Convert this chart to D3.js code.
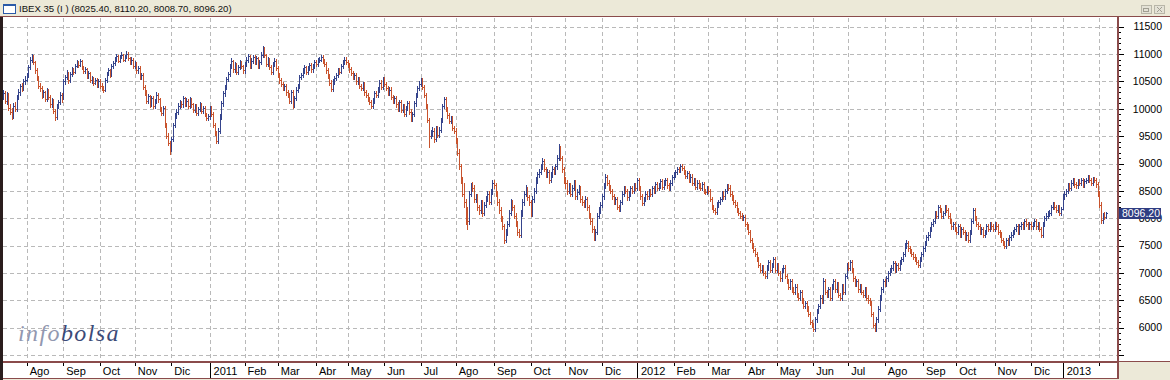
<!DOCTYPE html>
<html>
<head>
<meta charset="utf-8">
<script src="https://cdn.jsdelivr.net/npm/d3@7"></script>
<style>
  body { margin: 0; background: #ece9d8; }
  svg { display: block; }
</style>
</head>
<body>
<svg id="chart"></svg>
<script>
// Constants for dimensions
const width = 1170;
const height = 380;

// Title values (open, high, low, close of the last session)
const lastOHLC = [8025.40, 8110.20, 8008.70, 8096.20];

// Month labels along the bottom (first entry is the partial July 2010)
const monthLabels = ["Jul", "Ago", "Sep", "Oct", "Nov", "Dic",
  "2011", "Feb", "Mar", "Abr", "May", "Jun", "Jul", "Ago", "Sep", "Oct", "Nov", "Dic",
  "2012", "Feb", "Mar", "Abr", "May", "Jun", "Jul", "Ago", "Sep", "Oct", "Nov", "Dic",
  "2013", ""];
// Trading sessions shown in each month
const monthDays = [14, 22, 22, 21, 22, 23,
  21, 20, 23, 19, 22, 22, 21, 23, 22, 21, 22, 21,
  22, 21, 22, 19, 22, 21, 22, 23, 20, 23, 22, 19,
  22, 5];

// Daily closes, one line per month
const closes = [
  10280, 10150, 10240, 10020, 9950, 9870, 10060, 10000, 10220, 10300, 10420, 10380, 10500, 10530,
  10620, 10760, 10900, 10960, 10850, 10700, 10560, 10420, 10380, 10250, 10300, 10180, 10340, 10220, 10080, 10150, 9960, 9850, 10050, 10120, 10260, 10180,
  10500, 10580, 10650, 10520, 10640, 10720, 10680, 10790, 10850, 10800, 10870, 10760, 10690, 10720, 10600, 10650, 10520, 10560, 10480, 10530, 10430, 10500,
  10420, 10380, 10350, 10520, 10640, 10700, 10620, 10780, 10840, 10900, 10960, 10880, 10950, 10990, 10900, 10960, 11010, 10920, 10850, 10900, 10780,
  10820, 10700, 10750, 10580, 10620, 10400, 10300, 10150, 10230, 10080, 10200, 10050, 10140, 10260, 10180, 10000, 9920, 10020, 9700, 9500, 9380, 9260,
  9450, 9700, 9880, 9950, 10060, 10120, 10080, 10190, 10100, 10150, 10050, 10170, 10080, 9980, 10050, 9920, 10000, 10080, 9960, 10020, 9900, 9840, 9860,
  10020, 9900, 9700, 9560, 9420, 9600, 9860, 10100, 10280, 10400, 10550, 10640, 10780, 10880, 10720, 10820, 10680, 10760, 10850, 10780, 10700,
  10820, 10900, 10960, 10780, 10880, 10950, 10850, 10920, 10780, 10850, 10990, 11100, 10980, 10820, 10900, 10760, 10680, 10820, 10880, 10740,
  10620, 10520, 10450, 10380, 10420, 10300, 10250, 10150, 10300, 10080, 10200, 10350, 10420, 10580, 10620, 10700, 10760, 10680, 10740, 10800, 10720, 10780, 10850,
  10820, 10880, 10900, 10950, 10880, 10820, 10700, 10600, 10480, 10360, 10500, 10560, 10620, 10700, 10680, 10780, 10850, 10900, 10860,
  10800, 10720, 10650, 10580, 10620, 10500, 10540, 10420, 10380, 10450, 10300, 10250, 10180, 10120, 10060, 10150, 10280, 10250, 10350, 10480, 10400, 10550,
  10450, 10380, 10300, 10350, 10220, 10150, 10200, 10080, 10000, 10120, 9980, 10050, 9900, 10020, 10100, 9950, 9820, 9900, 10100, 10250, 10380, 10460,
  10520, 10400, 10250, 10050, 9800, 9500, 9560, 9600, 9450, 9650, 9520, 9620, 9800, 10050, 10180, 10000, 9880, 9780, 9820, 9650, 9600,
  9420, 9200, 8950, 8700, 8450, 8300, 8000, 7950, 8450, 8600, 8550, 8350, 8400, 8200, 8150, 8300, 8100, 8250, 8350, 8450, 8300, 8500, 8650,
  8600, 8450, 8300, 8150, 8000, 7850, 7600, 7750, 7900, 8100, 8300, 8200, 8050, 7900, 7750, 7700, 8100, 8300, 8450, 8550, 8380, 8300,
  8100, 8350, 8500, 8700, 8800, 8850, 8950, 9050, 8900, 8800, 8850, 8700, 8800, 8900, 8850, 8950, 9100, 9300, 9100, 8900, 8700,
  8650, 8500, 8600, 8450, 8550, 8650, 8400, 8480, 8550, 8350, 8300, 8250, 8350, 8200, 8050, 7950, 7800, 7650, 7750, 8050, 8150, 8250,
  8400, 8600, 8750, 8650, 8550, 8500, 8400, 8300, 8350, 8200, 8180, 8300, 8450, 8550, 8500, 8380, 8450, 8550, 8500, 8600, 8560,
  8700, 8550, 8400, 8280, 8350, 8450, 8400, 8500, 8450, 8550, 8500, 8620, 8550, 8600, 8680, 8580, 8650, 8700, 8600, 8550, 8650, 8750,
  8800, 8850, 8900, 8880, 8950, 8920, 8850, 8780, 8820, 8700, 8760, 8650, 8700, 8580, 8650, 8600, 8550, 8620, 8500, 8480, 8550,
  8500, 8350, 8200, 8150, 8120, 8250, 8300, 8350, 8450, 8400, 8500, 8580, 8560, 8450, 8380, 8300, 8250, 8150, 8100, 8050, 8000, 8020,
  7900, 7850, 7750, 7600, 7500, 7420, 7350, 7250, 7150, 7050, 7100, 7000, 6950, 7100, 7200, 7050, 7150, 7250, 7050,
  7150, 7000, 6900, 7050, 7100, 6950, 6850, 6750, 6850, 6700, 6650, 6750, 6600, 6550, 6650, 6500, 6400, 6450, 6350, 6250, 6100, 6050,
  5980, 6150, 6300, 6400, 6550, 6500, 6850, 6650, 6600, 6700, 6550, 6750, 6850, 6700, 6800, 6600, 6550, 6750, 6650, 6950, 7150,
  7100, 7200, 7050, 6900, 6800, 6850, 6700, 6750, 6650, 6600, 6700, 6550, 6500, 6450, 6250, 6050, 5980, 6150, 6350, 6550, 6700, 6850,
  6800, 6900, 7000, 7050, 7100, 7180, 7050, 7150, 7100, 7200, 7250, 7350, 7500, 7550, 7450, 7400, 7350, 7300, 7250, 7200, 7150, 7250, 7350,
  7450, 7550, 7650, 7700, 7800, 7900, 7950, 8100, 8050, 8200, 8150, 8050, 8100, 8200, 8150, 8050, 7950, 7850, 7900, 7800,
  7750, 7850, 7700, 7800, 7750, 7650, 7700, 7600, 7750, 7950, 8150, 8000, 7900, 7850, 7750, 7800, 7700, 7750, 7850, 7800, 7900, 7850, 7800,
  7900, 7850, 7750, 7700, 7600, 7550, 7500, 7600, 7550, 7650, 7700, 7750, 7800, 7850, 7750, 7850, 7900, 7850, 7950, 7900, 7850, 7900,
  7850, 7900, 7950, 7850, 7900, 7800, 7700, 7900, 8000, 8050, 8100, 8100, 8200, 8250, 8200, 8150, 8200, 8100, 8170,
  8400, 8450, 8500, 8600, 8550, 8650, 8700, 8620, 8600, 8680, 8650, 8700, 8620, 8680, 8700, 8750, 8700, 8650, 8720, 8700, 8620, 8450,
  8250, 7960, 8060, 8030, 8096.2
];

// Daily highs, one line per month
const highs = [
  10350, 10320, 10300, 10290, 10080, 10010, 10110, 10120, 10260, 10360, 10460, 10480, 10540, 10600,
  10660, 10800, 10940, 11010, 10990, 10880, 10740, 10600, 10470, 10420, 10350, 10330, 10380, 10370, 10250, 10190, 10170, 10000, 10090, 10160, 10300, 10290,
  10540, 10620, 10700, 10680, 10680, 10760, 10750, 10820, 10890, 10880, 10910, 10900, 10790, 10760, 10750, 10690, 10680, 10600, 10590, 10570, 10560, 10540,
  10540, 10470, 10420, 10560, 10670, 10740, 10730, 10810, 10880, 10940, 11000, 10990, 10980, 11030, 11010, 10990, 11050, 11040, 10950, 10940, 10920,
  10870, 10860, 10790, 10780, 10660, 10650, 10440, 10340, 10270, 10260, 10240, 10230, 10180, 10300, 10290, 10200, 10040, 10060, 10050, 9740, 9560, 9420,
  9490, 9740, 9920, 9990, 10100, 10160, 10150, 10230, 10220, 10190, 10180, 10210, 10200, 10110, 10090, 10080, 10040, 10120, 10110, 10060, 10050, 9930, 9900,
  10060, 10060, 9940, 9740, 9600, 9640, 9900, 10140, 10320, 10440, 10590, 10680, 10820, 10920, 10900, 10860, 10840, 10800, 10890, 10880, 10800,
  10860, 10940, 11000, 10990, 10920, 10990, 10980, 10960, 10950, 10890, 11030, 11140, 11130, 11010, 10940, 10930, 10800, 10860, 10920, 10910,
  10780, 10660, 10560, 10490, 10460, 10460, 10340, 10290, 10340, 10340, 10240, 10390, 10460, 10620, 10660, 10740, 10800, 10790, 10780, 10840, 10830, 10820, 10890,
  10890, 10920, 10940, 10990, 10980, 10910, 10850, 10740, 10640, 10520, 10540, 10600, 10660, 10740, 10740, 10820, 10890, 10940, 10940,
  10900, 10840, 10760, 10690, 10660, 10660, 10580, 10580, 10460, 10490, 10490, 10340, 10290, 10220, 10160, 10190, 10320, 10320, 10390, 10520, 10520, 10590,
  10590, 10490, 10420, 10390, 10390, 10260, 10240, 10240, 10120, 10160, 10160, 10090, 10090, 10060, 10140, 10140, 9990, 9940, 10140, 10290, 10420, 10500,
  10560, 10560, 10440, 10290, 10090, 9840, 9620, 9660, 9640, 9690, 9690, 9660, 9840, 10090, 10220, 10220, 10040, 9920, 9870, 9860, 9690,
  9640, 9460, 9260, 9000, 8760, 8640, 8360, 8200, 8500, 8650, 8660, 8600, 8440, 8450, 8250, 8340, 8340, 8290, 8400, 8490, 8500, 8540, 8700,
  8700, 8650, 8500, 8350, 8200, 8050, 7900, 7800, 7950, 8150, 8350, 8340, 8250, 8100, 7950, 7800, 8150, 8350, 8500, 8600, 8580, 8420,
  8340, 8400, 8550, 8750, 8850, 8900, 9000, 9100, 9080, 8940, 8900, 8880, 8850, 8950, 8940, 9000, 9150, 9350, 9320, 9140, 8940,
  8760, 8700, 8650, 8640, 8600, 8700, 8690, 8530, 8600, 8590, 8400, 8340, 8400, 8390, 8250, 8100, 8000, 7850, 7800, 8100, 8200, 8300,
  8450, 8650, 8800, 8790, 8690, 8600, 8540, 8440, 8390, 8390, 8240, 8340, 8490, 8590, 8590, 8540, 8490, 8590, 8590, 8640, 8640,
  8740, 8740, 8590, 8440, 8390, 8490, 8490, 8540, 8540, 8590, 8590, 8660, 8660, 8640, 8720, 8720, 8690, 8740, 8740, 8640, 8690, 8790,
  8840, 8890, 8940, 8940, 8990, 8990, 8960, 8890, 8860, 8860, 8800, 8800, 8740, 8740, 8690, 8690, 8640, 8660, 8660, 8540, 8590,
  8590, 8540, 8390, 8240, 8190, 8290, 8340, 8390, 8490, 8490, 8540, 8620, 8620, 8600, 8490, 8420, 8340, 8290, 8190, 8140, 8090, 8060,
  8060, 7940, 7890, 7790, 7640, 7540, 7460, 7390, 7290, 7190, 7140, 7140, 7040, 7140, 7240, 7240, 7190, 7290, 7290,
  7190, 7190, 7040, 7090, 7140, 7140, 6990, 6890, 6890, 6890, 6740, 6790, 6790, 6640, 6690, 6690, 6540, 6490, 6490, 6390, 6290, 6140,
  6090, 6190, 6340, 6440, 6590, 6590, 6900, 6890, 6690, 6740, 6740, 6790, 6890, 6890, 6840, 6840, 6640, 6790, 6790, 6990, 7190,
  7200, 7240, 7240, 7090, 6940, 6890, 6890, 6790, 6790, 6690, 6740, 6740, 6590, 6540, 6490, 6290, 6090, 6190, 6390, 6590, 6740, 6890,
  6890, 6940, 7040, 7090, 7140, 7220, 7220, 7190, 7190, 7240, 7290, 7390, 7540, 7600, 7590, 7490, 7440, 7390, 7340, 7290, 7240, 7290, 7390,
  7490, 7590, 7690, 7740, 7840, 7940, 7990, 8140, 8140, 8240, 8240, 8190, 8140, 8240, 8240, 8190, 8090, 7990, 7940, 7940,
  7840, 7890, 7890, 7840, 7840, 7790, 7740, 7740, 7790, 7990, 8190, 8190, 8040, 7940, 7890, 7840, 7840, 7790, 7890, 7890, 7940, 7940, 7890,
  7940, 7940, 7890, 7790, 7740, 7640, 7590, 7640, 7640, 7690, 7740, 7790, 7840, 7890, 7890, 7890, 7940, 7940, 7990, 7990, 7940, 7940,
  7940, 7940, 7990, 7990, 7940, 7940, 7840, 7940, 8040, 8090, 8140, 8150, 8240, 8290, 8290, 8240, 8240, 8240, 8210,
  8440, 8490, 8540, 8640, 8640, 8690, 8740, 8740, 8660, 8720, 8720, 8740, 8740, 8720, 8740, 8790, 8790, 8740, 8760, 8760, 8740, 8660,
  8490, 8290, 8100, 8110, 8110.2
];

// Daily lows, one line per month
const lows = [
  10180, 10100, 10090, 9980, 9900, 9820, 9840, 9960, 9960, 10180, 10260, 10330, 10340, 10450,
  10500, 10580, 10720, 10860, 10810, 10660, 10520, 10380, 10330, 10200, 10210, 10140, 10150, 10180, 10040, 10040, 9920, 9800, 9820, 10010, 10080, 10130,
  10170, 10460, 10550, 10480, 10490, 10600, 10640, 10650, 10760, 10760, 10780, 10730, 10650, 10660, 10570, 10570, 10490, 10480, 10440, 10450, 10390, 10400,
  10380, 10340, 10300, 10320, 10490, 10610, 10580, 10600, 10750, 10800, 10870, 10850, 10850, 10920, 10870, 10870, 10930, 10890, 10810, 10820, 10740,
  10740, 10660, 10660, 10540, 10550, 10360, 10260, 10100, 10110, 10040, 10050, 10010, 10020, 10110, 10130, 9960, 9880, 9880, 9660, 9460, 9330, 9180,
  9220, 9410, 9660, 9840, 9910, 10020, 10040, 10040, 10060, 10060, 10010, 10020, 10040, 9940, 9940, 9880, 9880, 9960, 9920, 9920, 9860, 9800, 9800,
  9820, 9860, 9660, 9520, 9380, 9380, 9560, 9820, 10060, 10240, 10360, 10510, 10600, 10740, 10680, 10680, 10640, 10640, 10720, 10740, 10660,
  10660, 10780, 10860, 10740, 10740, 10840, 10810, 10820, 10740, 10740, 10810, 10950, 10940, 10780, 10780, 10720, 10640, 10640, 10780, 10700,
  10580, 10480, 10410, 10340, 10340, 10260, 10210, 10100, 10110, 10020, 10040, 10160, 10310, 10380, 10540, 10580, 10660, 10640, 10640, 10700, 10680, 10680, 10740,
  10780, 10780, 10850, 10870, 10840, 10780, 10660, 10560, 10440, 10320, 10330, 10460, 10520, 10580, 10640, 10650, 10740, 10810, 10820,
  10760, 10680, 10610, 10540, 10540, 10460, 10460, 10380, 10340, 10340, 10260, 10210, 10140, 10080, 10010, 10020, 10110, 10210, 10210, 10310, 10360, 10360,
  10410, 10340, 10260, 10260, 10180, 10110, 10110, 10040, 9960, 9960, 9940, 9940, 9860, 9860, 9980, 9910, 9770, 9780, 9860, 10060, 10210, 10340,
  10420, 10360, 10210, 10010, 9760, 9300, 9460, 9500, 9400, 9410, 9480, 9480, 9580, 9760, 10010, 9960, 9840, 9740, 9740, 9610, 9560,
  9380, 9150, 8900, 8640, 8400, 8200, 7900, 7800, 7900, 8400, 8500, 8300, 8300, 8150, 8080, 8100, 8050, 8060, 8200, 8310, 8260, 8260, 8450,
  8550, 8400, 8250, 8100, 7950, 7800, 7540, 7560, 7700, 7860, 8060, 8150, 8000, 7850, 7700, 7650, 7650, 8050, 8250, 8400, 8330, 8250,
  8040, 8050, 8300, 8460, 8650, 8760, 8800, 8900, 8860, 8750, 8760, 8650, 8660, 8760, 8800, 8800, 8900, 9060, 9060, 8850, 8650,
  8560, 8450, 8460, 8400, 8410, 8510, 8350, 8360, 8440, 8300, 8250, 8200, 8210, 8150, 8000, 7900, 7750, 7600, 7610, 7710, 8000, 8100,
  8200, 8360, 8560, 8610, 8510, 8460, 8360, 8260, 8260, 8160, 8140, 8140, 8260, 8410, 8460, 8340, 8340, 8410, 8460, 8460, 8520,
  8520, 8510, 8360, 8240, 8240, 8310, 8360, 8360, 8410, 8410, 8460, 8460, 8510, 8510, 8560, 8540, 8540, 8610, 8560, 8510, 8510, 8610,
  8710, 8760, 8810, 8840, 8840, 8880, 8810, 8740, 8740, 8660, 8660, 8610, 8610, 8540, 8540, 8560, 8510, 8510, 8460, 8440, 8440,
  8460, 8310, 8160, 8110, 8080, 8080, 8210, 8260, 8310, 8360, 8360, 8460, 8520, 8410, 8340, 8260, 8210, 8110, 8060, 8010, 7960, 7960,
  7860, 7810, 7710, 7560, 7460, 7380, 7310, 7210, 7110, 7010, 7010, 6960, 6910, 6910, 7060, 7010, 7010, 7110, 7010,
  7010, 6960, 6860, 6860, 7010, 6910, 6810, 6710, 6710, 6660, 6610, 6610, 6560, 6510, 6510, 6460, 6360, 6360, 6310, 6210, 6060, 6010,
  5940, 5940, 6110, 6260, 6360, 6460, 6460, 6610, 6560, 6560, 6510, 6510, 6710, 6660, 6660, 6560, 6510, 6510, 6610, 6610, 6910,
  7060, 7060, 7010, 6860, 6760, 6760, 6660, 6660, 6610, 6560, 6560, 6510, 6460, 6410, 6210, 6010, 5940, 5940, 6110, 6310, 6510, 6660,
  6760, 6760, 6860, 6960, 7010, 7060, 7010, 7010, 7060, 7060, 7160, 7210, 7310, 7460, 7410, 7360, 7310, 7260, 7210, 7160, 7110, 7110, 7210,
  7310, 7410, 7510, 7610, 7660, 7760, 7860, 7910, 8010, 8010, 8110, 8010, 8010, 8060, 8110, 8010, 7910, 7810, 7810, 7760,
  7710, 7710, 7660, 7660, 7710, 7610, 7610, 7560, 7560, 7710, 7910, 7960, 7860, 7810, 7710, 7710, 7660, 7660, 7710, 7760, 7760, 7810, 7760,
  7760, 7810, 7710, 7660, 7560, 7510, 7460, 7460, 7510, 7510, 7610, 7660, 7710, 7760, 7710, 7710, 7810, 7810, 7810, 7860, 7810, 7810,
  7810, 7810, 7860, 7810, 7810, 7760, 7660, 7660, 7860, 7960, 8010, 8050, 8060, 8160, 8160, 8110, 8110, 8060, 8060,
  8160, 8360, 8410, 8460, 8510, 8510, 8610, 8580, 8560, 8560, 8610, 8610, 8580, 8580, 8640, 8660, 8660, 8610, 8610, 8660, 8580, 8410,
  8210, 7920, 7920, 7990, 8008.7
];

// Price levels
const gridLevels = d3.range(5500, 11501, 500);
const labelLevels = d3.range(6000, 11501, 500);
const minorLevels = d3.range(5500, 11501, 100);

const colorUp = "#35448c";
const colorDown = "#c8532d";
const frameColor = "#8a4b4b";
const gridColor = "#b9b9b9";

const svg = d3.select("#chart")
  .attr("width", width)
  .attr("height", height)
  .style("font-family", "'Liberation Sans', Arial, sans-serif");

// Window background
svg.append("rect").attr("width", width).attr("height", height).attr("fill", "#ece9d8");

// Panels
svg.append("rect").attr("x", 3).attr("y", 17).attr("width", 1115).attr("height", 345).attr("fill", "#fff");
svg.append("rect").attr("x", 1118).attr("y", 17).attr("width", 52).attr("height", 345).attr("fill", "#fff");
svg.append("rect").attr("x", 3).attr("y", 362).attr("width", 1114).attr("height", 16).attr("fill", "#fff");

// Scales: one slot per trading session
const xScale = d3.scaleLinear()
  .domain([0, 637])
  .range([3.4, 1062.7]);

const yScale = d3.scaleLinear()
  .domain([6000, 11500])
  .range([327.7, 26.7]);

// Month start indexes
const starts = [0, ...d3.cumsum(monthDays)].slice(0, monthDays.length);
const monthTicks = starts.map((s, i) => ({ idx: s, label: monthLabels[i] })).slice(1);

// Grid
const grid = svg.append("g")
  .attr("stroke", gridColor)
  .attr("stroke-dasharray", "4,3")
  .attr("shape-rendering", "crispEdges");

grid.selectAll(".hgrid")
  .data(gridLevels)
  .enter()
  .append("line")
  .attr("x1", 3)
  .attr("x2", 1117)
  .attr("y1", d => Math.round(yScale(d)) + 0.5)
  .attr("y2", d => Math.round(yScale(d)) + 0.5);

grid.selectAll(".vgrid")
  .data(monthTicks)
  .enter()
  .append("line")
  .attr("x1", d => Math.round(xScale(d.idx)) + 0.5)
  .attr("x2", d => Math.round(xScale(d.idx)) + 0.5)
  .attr("y1", 18)
  .attr("y2", 361);

// Logo
const logo = svg.append("text")
  .attr("x", 18)
  .attr("y", 341)
  .style("font-family", "'Liberation Serif', 'DejaVu Serif', serif")
  .style("font-style", "italic")
  .style("font-size", "24px")
  .style("letter-spacing", "1.4px");
logo.append("tspan").attr("fill", "#9298b0").text("info");
logo.append("tspan").attr("fill", "#3b4a78").text("bolsa");

// OHLC bars (open taken as previous close)
const bars = closes.map((c, i) => {
  const last = i === closes.length - 1;
  const o = last ? lastOHLC[0] : (i === 0 ? c : closes[i - 1]);
  const h = last ? lastOHLC[1] : Math.max(highs[i], o, c);
  const l = last ? lastOHLC[2] : Math.min(lows[i], o, c);
  return { i, o, h, l, c };
});

const barG = svg.append("g")
  .attr("shape-rendering", "crispEdges")
  .attr("stroke-width", 1);

const bar = barG.selectAll(".bar")
  .data(bars)
  .enter()
  .append("g")
  .attr("stroke", d => d.c >= d.o ? colorUp : colorDown);

const bx = d => Math.round(xScale(d.i)) + 0.5;

bar.append("line")
  .attr("x1", bx)
  .attr("x2", bx)
  .attr("y1", d => Math.round(yScale(d.h)))
  .attr("y2", d => Math.round(yScale(d.l)) + 1);

bar.append("line")
  .attr("x1", d => bx(d) - 1)
  .attr("x2", d => bx(d))
  .attr("y1", d => Math.round(yScale(d.o)) + 0.5)
  .attr("y2", d => Math.round(yScale(d.o)) + 0.5);

bar.append("line")
  .attr("x1", d => bx(d))
  .attr("x2", d => bx(d) + 1)
  .attr("y1", d => Math.round(yScale(d.c)) + 0.5)
  .attr("y2", d => Math.round(yScale(d.c)) + 0.5);

// Right price axis
const minorAxis = d3.axisRight(yScale)
  .tickValues(minorLevels)
  .tickSize(3)
  .tickFormat("");
const majorAxis = d3.axisRight(yScale)
  .tickValues(gridLevels)
  .tickSize(6)
  .tickFormat("");

svg.append("g")
  .attr("transform", "translate(1118,0)")
  .attr("shape-rendering", "crispEdges")
  .call(minorAxis)
  .call(g => g.select(".domain").remove());
svg.append("g")
  .attr("transform", "translate(1118,0)")
  .attr("shape-rendering", "crispEdges")
  .call(majorAxis)
  .call(g => g.select(".domain").remove());

svg.append("g")
  .selectAll("text")
  .data(labelLevels)
  .enter()
  .append("text")
  .attr("x", 1162)
  .attr("y", d => yScale(d))
  .attr("dy", "0.36em")
  .attr("text-anchor", "end")
  .style("font-size", "10.5px")
  .attr("fill", "#000")
  .text(d => d);

// Last price tag
const lastClose = lastOHLC[3];
svg.append("rect")
  .attr("x", 1119)
  .attr("y", Math.round(yScale(lastClose)) - 5)
  .attr("width", 42)
  .attr("height", 11)
  .attr("fill", "#2f3d82");
svg.append("text")
  .attr("x", 1160)
  .attr("y", yScale(lastClose))
  .attr("dy", "0.36em")
  .attr("text-anchor", "end")
  .style("font-size", "10.5px")
  .attr("fill", "#fff")
  .text(lastClose.toFixed(2));

// Bottom month axis
const xg = svg.append("g").attr("shape-rendering", "crispEdges");
xg.selectAll(".mtick")
  .data(monthTicks)
  .enter()
  .append("line")
  .attr("x1", d => Math.round(xScale(d.idx)) + 0.5)
  .attr("x2", d => Math.round(xScale(d.idx)) + 0.5)
  .attr("y1", 362)
  .attr("y2", d => /^\d{4}$/.test(d.label) ? 378 : 366)
  .attr("stroke", "#000");

xg.selectAll(".mlabel")
  .data(monthTicks)
  .enter()
  .append("text")
  .attr("x", d => xScale(d.idx) + (/^\d{4}$/.test(d.label) ? 4 : 3))
  .attr("y", 375)
  .style("font-size", "11px")
  .attr("fill", "#000")
  .text(d => d.label);

// Frames
const frames = svg.append("g")
  .attr("fill", "none")
  .attr("shape-rendering", "crispEdges");
frames.append("line").attr("x1", 0).attr("x2", 1170).attr("y1", 16.5).attr("y2", 16.5).attr("stroke", frameColor);
frames.append("line").attr("x1", 1117.5).attr("x2", 1117.5).attr("y1", 17).attr("y2", 379).attr("stroke", frameColor).attr("stroke-width", 2);
frames.append("line").attr("x1", 3).attr("x2", 1118).attr("y1", 362).attr("y2", 362).attr("stroke", frameColor).attr("stroke-width", 2);
frames.append("line").attr("x1", 3).attr("x2", 1118).attr("y1", 378.5).attr("y2", 378.5).attr("stroke", frameColor);
frames.append("line").attr("x1", 1118).attr("x2", 1170).attr("y1", 361.5).attr("y2", 361.5).attr("stroke", frameColor);
frames.append("rect").attr("x", 0).attr("y", 17).attr("width", 3).attr("height", 363).attr("fill", "#2a1d1d");

// Title bar
svg.append("rect").attr("x", 3).attr("y", 4).attr("width", 12).attr("height", 9)
  .attr("fill", "#fff").attr("stroke", "#2a5aa8").attr("shape-rendering", "crispEdges");
svg.append("rect").attr("x", 3).attr("y", 4).attr("width", 12).attr("height", 2)
  .attr("fill", "#2a5aa8").attr("shape-rendering", "crispEdges");
svg.append("text")
  .attr("x", 19)
  .attr("y", 12)
  .style("font-size", "9.6px")
  .attr("fill", "#111")
  .text(`IBEX 35 (I ) (${lastOHLC.map(v => v.toFixed(2)).join(", ")})`);

// Window buttons
[1141, 1154].forEach(x => {
  svg.append("rect").attr("x", x + 0.5).attr("y", 5.5).attr("width", 10).attr("height", 8)
    .attr("fill", "#e4e2d6").attr("stroke", "#b8b6a8");
});
svg.append("rect").attr("x", 1143.5).attr("y", 8.5).attr("width", 5).attr("height", 3)
  .attr("fill", "none").attr("stroke", "#a09e92");
svg.append("path").attr("d", "M1157,7 L1162,12 M1162,7 L1157,12").attr("stroke", "#a09e92");
</script>
</body>
</html>
